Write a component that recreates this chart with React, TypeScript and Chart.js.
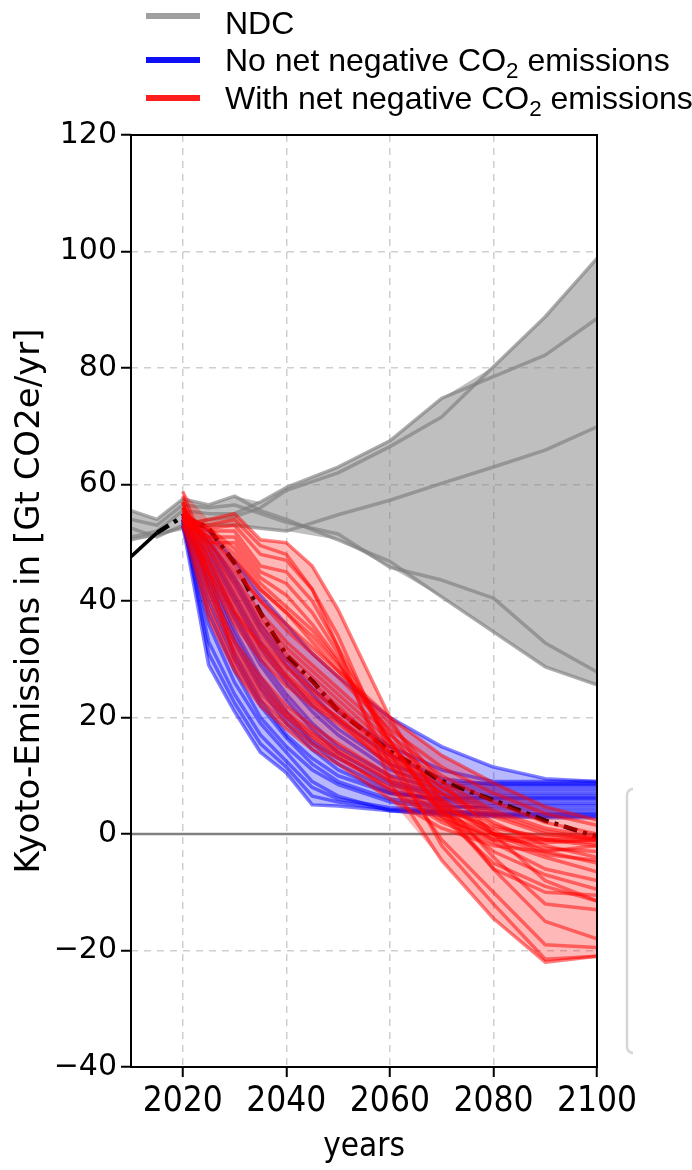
import React, { useEffect, useRef } from "react";
import { Chart, registerables } from "chart.js";
Chart.register(...registerables);

// ---------- data ----------
const NDC_YEARS = [2010, 2015, 2020, 2025, 2030, 2035, 2040, 2050, 2060, 2070, 2080, 2090, 2100];
const NDC_A = [52.5, 51, 53, 54, 54.5, 56, 59, 62, 66.5, 71.6, 80.2, 88.8, 98.8];
const NDC_B = [51, 52, 55.5, 55, 55, 57, 59.5, 63, 67.5, 74.8, 78.5, 82.2, 88.5];
const NDC_C = [50.5, 51.5, 52.5, 53, 53, 52.5, 52, 54.8, 57.3, 60.2, 63, 65.9, 69.9];
const NDC_D = [55.5, 54, 57.5, 56.5, 58, 55.5, 54, 50.5, 46.8, 40.7, 34.7, 28.7, 25.6];
const NDC_E = [54, 53, 56.5, 56, 56.5, 55, 53.5, 51.5, 45.8, 43.6, 40.5, 32.8, 27.8];

const PATH_YEARS = [2020, 2025, 2030, 2035, 2040, 2045, 2050, 2060, 2070, 2080, 2090, 2100];

const BLUE_01 = [53, 29, 21, 14, 10.5, 5, 4.8, 4, 3.5, 3.2, 3, 3];
const BLUE_02 = [54, 33, 24, 17, 12.5, 8, 6, 4.5, 4, 3.6, 3.6, 3.6];
const BLUE_03 = [53.5, 38, 28, 20, 15, 11, 8.5, 5.5, 4.5, 4.8, 4.8, 4.8];
const BLUE_04 = [54.5, 42, 31, 23, 17, 13, 10, 7, 5.9, 5.9, 5.9, 5.9];
const BLUE_05 = [55, 45, 35, 27, 21, 16, 13, 8.5, 6.5, 6.5, 6.5, 6.5];
const BLUE_06 = [54, 47, 38, 30, 24, 19, 15, 10, 7.6, 7.6, 7.6, 7.6];
const BLUE_07 = [55, 49, 41, 33, 27, 22, 18, 12, 8.7, 8.7, 8.7, 8.7];
const BLUE_08 = [54.5, 50.5, 44, 36, 30, 25, 21, 15, 11, 9, 9, 9];
const BLUE_09 = [55, 52, 47, 41, 36, 31, 27, 20, 15, 11.5, 9.5, 9];
const BLUE_10 = [53, 36, 26, 19, 14, 9, 6.5, 4, 3.2, 3, 2.8, 2.8];
const BLUE_11 = [54, 40, 30, 22, 16.5, 12, 9, 6, 5, 4.3, 4.2, 4.2];
const BLUE_12 = [55, 44, 34, 26, 20, 15.5, 12, 7.5, 5.5, 5.3, 5.3, 5.3];
const BLUE_13 = [53.5, 46, 37, 29, 23, 18, 14, 9, 7, 7, 7, 7];
const BLUE_14 = [54, 48, 40, 32, 26, 21, 17, 11, 8.2, 8.2, 8.2, 8.2];
const BLUE_15 = [54, 31, 22.5, 15.5, 11.5, 6.5, 5.5, 4.2, 3.8, 3.4, 3.4, 3.4];
const BLUE_16 = [55, 43, 33, 25, 19, 14.5, 11, 7, 6.2, 6.2, 6.2, 6.2];
const BLUE_17 = [54.5, 50, 43, 35, 29, 24, 19.5, 13.5, 9.5, 8.5, 8.5, 8.5];

const RED_01 = [53, 54, 55, 50.5, 50, 46, 38.5, 20, 5, -6, -15, -18];
const RED_02 = [54, 53, 54, 49.5, 48, 42, 32, 9, -4.5, -14.5, -22, -21];
const RED_03 = [55, 52.5, 53, 48, 47, 42, 34, 14, -2, -12, -21.5, -21];
const RED_04 = [53.5, 52, 52, 46, 45, 40, 32, 16, 3, -5, -9, -11.5];
const RED_05 = [54.5, 51, 51, 45, 43, 38, 31, 15.5, 4, -3, -7, -9.5];
const RED_06 = [54, 50, 50, 44, 41, 36, 30, 12, -1, -10, -19, -19.5];
const RED_07 = [55, 52, 48, 42, 38, 33, 28, 20, 13.5, 8.8, 4.7, 2.4];
const RED_08 = [54, 51, 46, 40, 35, 31, 27, 18, 11.5, 7, 3.5, 1.5];
const RED_09 = [56, 50, 44, 38, 33, 29, 25, 17, 10, 5.5, 2, 0];
const RED_10 = [58.8, 47, 38, 32, 27, 23, 20, 13, 7, 3, 0, -1];
const RED_11 = [55, 48, 41, 35, 30, 26, 22, 14, 8, 3.5, 0.5, -1];
const RED_12 = [54, 46, 39, 33, 28.5, 24.5, 21, 13.5, 6, 0.5, -3, -5];
const RED_13 = [56, 49, 42, 36, 31, 27, 23, 15, 8, 2, -2, -4];
const RED_14 = [53, 44, 36, 30, 25.5, 22, 19, 12, 5, 0, -2.5, -3];
const RED_15 = [55, 45, 37, 31, 26.5, 22.5, 19.5, 11.5, 4, -1, -4, -6.5];
const RED_16 = [57, 43, 33, 27, 22, 18.5, 15.5, 10, 4.5, 1, -0.5, -0.5];
const RED_17 = [55, 41, 31, 25, 20.5, 17, 14, 9, 3, -1, -1.5, -1];
const RED_18 = [54, 39, 29, 23, 19, 15.5, 13, 8, 2.5, -0.5, -1, -1];
const RED_19 = [53, 37, 28, 22, 18, 14.5, 12, 6, 1, -2, -3, -2];
const RED_20 = [58, 45, 30, 24, 20, 16.5, 13.5, 7.5, 2, -1.5, -6, -8];
const RED_21 = [56, 50, 45, 40, 36, 32, 28, 19, 9, 0, -8, -11.5];
const RED_22 = [55, 51, 47, 42, 38, 34, 29, 17.5, 6, -4, -12, -13];
const RED_23 = [56, 47, 40, 34, 29, 25, 21.5, 14, 7, 1.5, -1, -2];
const RED_24 = [54.5, 45, 38, 32.5, 27.5, 23.5, 20, 12.5, 5.5, 0, -3.5, -4.5];
const RED_25 = [55.5, 49, 43, 37, 32, 28, 24, 16, 9, 4, 1, -0.5];
const RED_26 = [57, 42, 32, 26, 21, 17.5, 14.5, 9.5, 3.5, 0, -1, -1.5];
const RED_27 = [54, 52.5, 49, 43, 39, 35, 29.5, 16, 4, -6, -10, -10.5];

const MEDIAN_YEARS = [2015, 2020, 2025, 2030, 2035, 2040, 2045, 2050, 2060, 2070, 2080, 2090, 2100];
const MEDIAN = [51.7, 54.5, 52.5, 46.5, 38, 30.7, 26.3, 21.2, 14.2, 9.1, 5.8, 2.3, -0.5];
const HIST_YEARS = [2010, 2015];
const HIST = [47.6, 51.7];
const ZERO_YEARS = [2010, 2100];
const ZERO = [0, 0];

const X_TICKS = [2020, 2040, 2060, 2080, 2100];
const Y_MIN = -40;
const Y_MAX = 120;
const Y_STEP = 20;

const LEGEND_LABELS = ["NDC", "No net negative CO", "With net negative CO"];

const NDC_LINES = [NDC_A, NDC_B, NDC_C, NDC_D, NDC_E];
const BLUE_LINES = [BLUE_01, BLUE_02, BLUE_03, BLUE_04, BLUE_05, BLUE_06, BLUE_07, BLUE_08, BLUE_09, BLUE_10, BLUE_11, BLUE_12, BLUE_13, BLUE_14, BLUE_15, BLUE_16, BLUE_17];
const RED_LINES = [RED_01, RED_02, RED_03, RED_04, RED_05, RED_06, RED_07, RED_08, RED_09, RED_10, RED_11, RED_12, RED_13, RED_14, RED_15, RED_16, RED_17, RED_18, RED_19, RED_20, RED_21, RED_22, RED_23, RED_24, RED_25, RED_26, RED_27];

// ---------- helpers ----------
const pts = (xs: number[], ys: number[]) => xs.map((x, i) => ({ x, y: ys[i] }));
const env = (lines: number[][], fn: (...v: number[]) => number) =>
  lines[0].map((_, i) => fn(...lines.map((l) => l[i])));

function lineDs(xs: number[], ys: number[], color: string, width: number, extra: any = {}) {
  return {
    type: "line",
    data: pts(xs, ys),
    borderColor: color,
    borderWidth: width,
    pointRadius: 0,
    pointHoverRadius: 0,
    fill: false,
    tension: 0,
    ...extra,
  };
}

function buildDatasets() {
  const list: any[] = [];
  list.push(lineDs(NDC_YEARS, env(NDC_LINES, Math.max), "rgba(0,0,0,0)", 1, { fill: "+1", backgroundColor: "rgba(128,128,128,0.5)" }));
  list.push(lineDs(NDC_YEARS, env(NDC_LINES, Math.min), "rgba(0,0,0,0)", 1));
  NDC_LINES.forEach((l) => list.push(lineDs(NDC_YEARS, l, "rgba(128,128,128,0.65)", 3.5)));
  list.push(lineDs(ZERO_YEARS, ZERO, "#808080", 2.5));
  list.push(lineDs(PATH_YEARS, env(BLUE_LINES, Math.max), "rgba(0,0,0,0)", 1, { fill: "+1", backgroundColor: "rgba(0,0,255,0.28)" }));
  list.push(lineDs(PATH_YEARS, env(BLUE_LINES, Math.min), "rgba(0,0,0,0)", 1));
  BLUE_LINES.forEach((l) => list.push(lineDs(PATH_YEARS, l, "rgba(0,0,255,0.5)", 3.5)));
  list.push(lineDs(HIST_YEARS, HIST, "#000", 3.5));
  list.push(lineDs(MEDIAN_YEARS, MEDIAN, "#000", 4.5, { borderDash: [14, 6, 4, 6] }));
  list.push(lineDs(PATH_YEARS, env(RED_LINES, Math.max), "rgba(0,0,0,0)", 1, { fill: "+1", backgroundColor: "rgba(255,0,0,0.28)" }));
  list.push(lineDs(PATH_YEARS, env(RED_LINES, Math.min), "rgba(0,0,0,0)", 1));
  RED_LINES.forEach((l) => list.push(lineDs(PATH_YEARS, l, "rgba(255,0,0,0.5)", 3.5)));
  const n = list.length;
  list.forEach((d, i) => (d.order = n - i));
  return list;
}

const framePlugin = {
  id: "frame",
  afterDatasetsDraw(chart: any) {
    const { ctx, chartArea } = chart;
    const { left, right, top, bottom } = chartArea;
    ctx.save();
    ctx.strokeStyle = "#000";
    ctx.lineWidth = 2;
    ctx.strokeRect(left, top, right - left, bottom - top);
    ctx.strokeStyle = "#d6d6d6";
    ctx.lineWidth = 2.5;
    ctx.beginPath();
    ctx.moveTo(633, 789);
    ctx.arcTo(627, 789, 627, 795, 6);
    ctx.lineTo(627, 1047);
    ctx.arcTo(627, 1053, 633, 1053, 6);
    ctx.stroke();
    ctx.restore();
  },
};

const legendColors = ["#a0a0a0", "#1010f4", "#ff1e1e"];
const legendLineTop = [13, 57, 95];
const legendTextTop = [7, 44, 82];

export default function App() {
  const ref = useRef<HTMLCanvasElement>(null);
  useEffect(() => {
    const chart = new Chart(ref.current as HTMLCanvasElement, {
      type: "line",
      data: { datasets: buildDatasets() },
      options: {
        responsive: false,
        animation: false,
        devicePixelRatio: 1,
        layout: { padding: { top: 135, right: 95, left: 0, bottom: 0 } },
        plugins: { legend: { display: false }, tooltip: { enabled: false } },
        elements: { line: { borderJoinStyle: "round" } },
        scales: {
          x: {
            type: "linear",
            min: 2010,
            max: 2100,
            afterBuildTicks: (s: any) => {
              s.ticks = X_TICKS.map((v) => ({ value: v }));
            },
            afterFit: (s: any) => {
              s.height = 103;
            },
            grid: { color: "#cfcfcf", lineWidth: 1.5, tickColor: "#000", tickWidth: 2, tickLength: 10 },
            border: { display: false, dash: [7, 6] },
            ticks: {
              color: "#000",
              padding: 4,
              maxRotation: 0,
              font: { family: "'DejaVu Sans Condensed', 'DejaVu Sans'", size: 35 },
              callback: (v: any) => String(v),
            },
            title: {
              display: true,
              text: "years",
              color: "#000",
              font: { family: "'DejaVu Sans Condensed', 'DejaVu Sans'", size: 33 },
              padding: { top: 0, bottom: 3 },
            },
          },
          y: {
            type: "linear",
            min: Y_MIN,
            max: Y_MAX,
            ticks: {
              stepSize: Y_STEP,
              color: "#000",
              padding: 4,
              font: { family: "'DejaVu Sans'", size: 30 },
              callback: (v: any) => (Number(v) < 0 ? "\u2212" + Math.abs(Number(v)) : String(v)),
            },
            afterFit: (s: any) => {
              s.width = 131;
            },
            grid: { color: "#cfcfcf", lineWidth: 1.5, tickColor: "#000", tickWidth: 2, tickLength: 10 },
            border: { display: false, dash: [7, 6] },
            title: {
              display: true,
              text: "Kyoto-Emissions in [Gt CO2e/yr]",
              color: "#000",
              font: { family: "'DejaVu Sans'", size: 34 },
              padding: { top: 10, bottom: 0 },
            },
          },
        },
      },
      plugins: [framePlugin],
    } as any);
    return () => chart.destroy();
  }, []);

  return (
    <div style={{ position: "absolute", left: 0, top: 0, width: 692, height: 1170, background: "#fff", overflow: "hidden" }}>
      <canvas ref={ref} width={692} height={1170} style={{ display: "block" }} />
      {LEGEND_LABELS.map((label, i) => (
        <React.Fragment key={label}>
          <div
            style={{
              position: "absolute",
              left: 146,
              top: legendLineTop[i],
              width: 54,
              height: 6,
              background: legendColors[i],
            }}
          />
          <div
            style={{
              position: "absolute",
              left: 225,
              top: legendTextTop[i],
              fontFamily: "'Liberation Sans', Arial, sans-serif",
              fontSize: 32,
              lineHeight: "32px",
              whiteSpace: "nowrap",
              color: "#000",
            }}
          >
            {label}
            {i > 0 && (
              <>
                <span style={{ fontSize: "0.7em", position: "relative", top: "0.3em" }}>2</span> emissions
              </>
            )}
          </div>
        </React.Fragment>
      ))}
    </div>
  );
}
